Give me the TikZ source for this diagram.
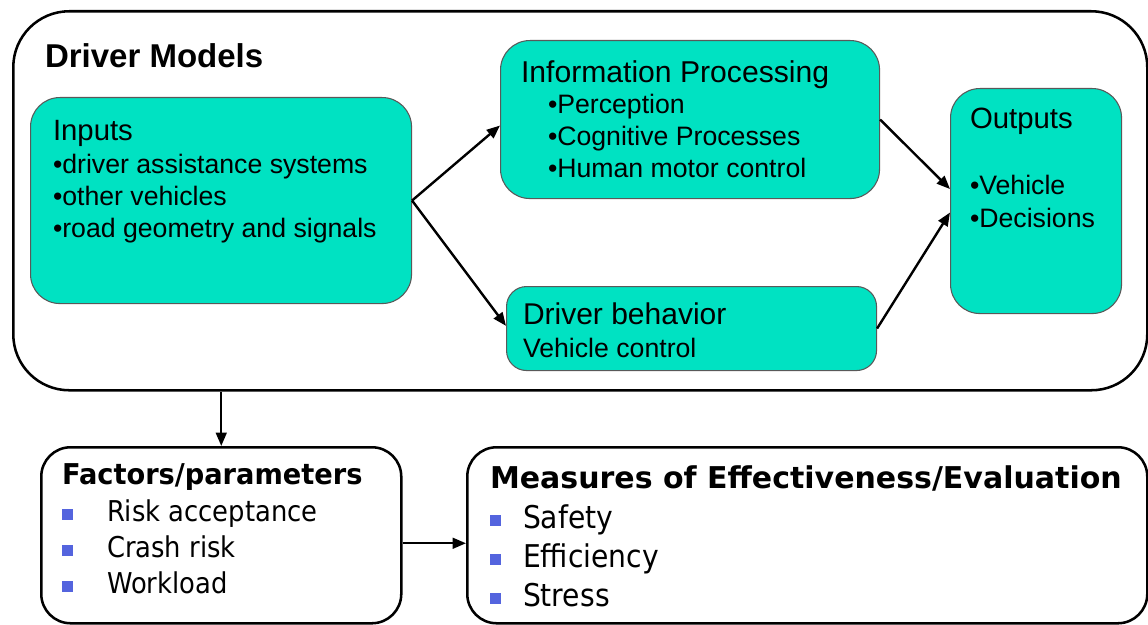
\documentclass[tikz,border=0pt]{standalone}
\usepackage{fontspec}
\setmainfont{Liberation Sans}
\newfontfamily\tah[FakeStretch=0.9]{DejaVu Sans}
\newfontfamily\tahf[FakeStretch=0.95]{DejaVu Sans}
\newfontfamily\tahw{DejaVu Sans}
\usetikzlibrary{arrows.meta}
\definecolor{turq}{RGB}{0,226,194}
\definecolor{blu}{RGB}{84,100,222}
\tikzset{
  tq/.style={draw=black!65, line width=0.8pt, fill=turq, anchor=north west, inner sep=0pt},
  bigbox/.style={draw=black, line width=1.9pt, anchor=north west, inner sep=0pt},
  txt/.style={anchor=base west, inner sep=0pt, outer sep=0pt},
  ttl/.style={txt, font=\fontsize{22}{26}\selectfont},
  itm/.style={txt, font=\fontsize{20}{24}\selectfont},
  sq/.style={fill=blu, draw=none, minimum size=8.25pt, inner sep=0pt},
  arr/.style={line width=1.8pt, -{Triangle[length=10pt,width=8pt]}},
}
\begin{document}
\begin{tikzpicture}[x=0.75pt,y=-0.75pt]
\useasboundingbox (0,0) rectangle (1148,624);
% big box
\node[bigbox, rounded corners=42pt, minimum width=850.5pt, minimum height=284.25pt] (big) at (12,10) {};
\node[txt, font=\fontsize{24.75}{28}\selectfont\bfseries] (dm) at (45,68) {Driver Models};
% inputs
\node[tq, rounded corners=22pt, minimum width=285.75pt, minimum height=154.5pt] (inputs) at (30,97) {};
\node[ttl] (inT) at (53,141) {Inputs};
\node[itm] (in1) at (53,173) {•driver assistance systems};
\node[itm] (in2) at (53,205) {•other vehicles};
\node[itm] (in3) at (53,237) {•road geometry and signals};
% information processing
\node[tq, rounded corners=22pt, minimum width=284.25pt, minimum height=118.5pt] (info) at (500,40) {};
\node[ttl, font=\fontsize{22.6}{26}\selectfont] (ipT) at (521,83) {Information Processing};
\node[itm] (ip1) at (548,114) {•Perception};
\node[itm] (ip2) at (548,146) {•Cognitive Processes};
\node[itm] (ip3) at (548,177) {•Human motor control};
% driver behavior
\node[tq, rounded corners=15pt, minimum width=277.5pt, minimum height=63pt] (drv) at (506,286) {};
\node[ttl, font=\fontsize{22.5}{26}\selectfont] (dbT) at (523,324) {Driver behavior};
\node[itm] (db1) at (523,357) {Vehicle control};
% outputs
\node[tq, rounded corners=22pt, minimum width=128.25pt, minimum height=168.75pt] (out) at (950,88) {};
\node[ttl] (oT) at (970,129) {Outputs};
\node[itm] (o1) at (970,195) {•Vehicle};
\node[itm] (o2) at (970,227) {•Decisions};
% connectors inside
\draw[arr] (inputs.east) -- ([yshift=-4.5pt]info.west);
\draw[arr] (inputs.east) -- ([yshift=2pt]drv.west);
\draw[arr] (info.east) -- ([yshift=9pt]out.west);
\draw[arr] (drv.east) -- ([yshift=-8.6pt]out.west);
% factors
\node[bigbox, rounded corners=22pt, minimum width=270pt, minimum height=132pt] (fac) at (40,446) {};
\node[txt, font=\tahf\fontsize{21.5}{26}\selectfont\bfseries] (fT) at (62,484) {Factors/parameters};
\node[sq] (fb1) at (67.5,514.5) {};
\node[sq] (fb2) at (67.5,550.5) {};
\node[sq] (fb3) at (67.5,586.5) {};
\node[txt, font=\tah\fontsize{21.5}{26}\selectfont] (f1) at (107,521) {Risk acceptance};
\node[txt, font=\tah\fontsize{21.5}{26}\selectfont] (f2) at (107,557) {Crash risk};
\node[txt, font=\tah\fontsize{21.5}{26}\selectfont] (f3) at (107,593) {Workload};
% measures
\node[bigbox, rounded corners=22pt, minimum width=510pt, minimum height=132pt] (mea) at (466,446) {};
\node[txt, font=\tahw\fontsize{22.5}{26}\selectfont\bfseries] (mT) at (490,488) {Measures of Effectiveness/Evaluation};
\node[sq] (mb1) at (495.5,520) {};
\node[sq] (mb2) at (495.5,559) {};
\node[sq] (mb3) at (495.5,598) {};
\node[txt, font=\tah\fontsize{23.5}{28}\selectfont] (m1) at (523,528) {Safety};
\node[txt, font=\tah\fontsize{23.5}{28}\selectfont] (m2) at (523,567) {Efficiency};
\node[txt, font=\tah\fontsize{23.5}{28}\selectfont] (m3) at (523,606) {Stress};
% connectors outside
\draw[arr] (fac.north |- big.south) -- (fac.north);
\draw[arr] ([yshift=-6pt]fac.east) -- ([yshift=-6pt]mea.west);
\end{tikzpicture}
\end{document}
